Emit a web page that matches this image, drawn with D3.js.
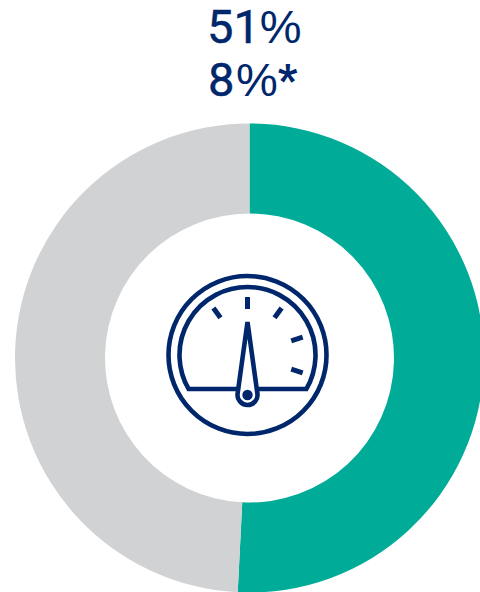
<!DOCTYPE html>
<html><head><meta charset="utf-8">
<script src="https://cdn.jsdelivr.net/npm/d3@7"></script>
<style>html,body{margin:0;padding:0;background:#fff;overflow:hidden}svg{display:block}</style>
</head><body><svg id="c" width="480" height="592"></svg>
<script>
const categories = ["Share", "Remainder"];
const seriesValues = [50.8, 49.2];
const labelNumbers = ["51", "8"];
const labelUnits = ["%", "%"];
const labelNotes = ["", "*"];
const colors = ["#00AB98", "#D1D2D4"];
const navy = "#00276B";
const dialTicks = [-36, 0, 36, 72, 108];

const svg = d3.select("#c");
const cx = 249.5, cy = 358, rO = 234.5, rI = 144.5;

const pie = d3.pie().sort(null);
const arc = d3.arc().innerRadius(rI).outerRadius(rO);
svg.append("g").attr("transform", `translate(${cx},${cy})`)
  .selectAll("path").data(pie(seriesValues)).join("path")
  .attr("d", arc).attr("fill", (d, i) => colors[i]);

const lab = svg.selectAll("text.lab").data(labelNumbers).join("text")
  .attr("class", "lab")
  .attr("x", (d, i) => i ? 208 : 207)
  .attr("y", (d, i) => i ? 96 : 42.5)
  .attr("fill", navy);
lab.append("tspan").attr("font-family", "Roboto, sans-serif").attr("font-weight", 400)
  .attr("font-size", 47).attr("stroke", navy).attr("stroke-width", 0.5).text(d => d);
lab.append("tspan").attr("font-family", "'Liberation Sans', sans-serif")
  .attr("font-size", 47).attr("dx", (d, i) => i ? 1.5 : 0).text((d, i) => labelUnits[i]);
lab.append("tspan").attr("font-family", "Roboto, sans-serif").attr("font-weight", 900)
  .attr("font-size", 42).attr("dy", -2).text((d, i) => labelNotes[i]);

const icon = svg.append("g").attr("transform", "translate(247.5,355)")
  .attr("fill", "none").attr("stroke", navy);
icon.append("circle").attr("r", 79).attr("stroke-width", 4.6);

const dial = d3.path();
dial.arc(0, 0, 68, Math.atan2(34, -59), Math.atan2(34, 59), false);
dial.closePath();
icon.append("path").attr("d", dial.toString()).attr("stroke-width", 4.6);

icon.selectAll("line").data(dialTicks).join("line")
  .attr("x1", d => 46 * Math.sin(d * Math.PI / 180))
  .attr("y1", d => -46 * Math.cos(d * Math.PI / 180))
  .attr("x2", d => 58 * Math.sin(d * Math.PI / 180))
  .attr("y2", d => -58 * Math.cos(d * Math.PI / 180))
  .attr("stroke-width", 5);

const needle = d3.path();
needle.moveTo(0, -33);
needle.lineTo(9.8, 38);
needle.arc(0, 40, 10, -0.2, Math.PI + 0.2, false);
needle.closePath();
icon.append("path").attr("d", needle.toString()).attr("fill", "#fff")
  .attr("stroke-width", 4.6).attr("stroke-linejoin", "bevel");
icon.append("circle").attr("cy", 40).attr("r", 5.2).attr("fill", navy).attr("stroke", "none");
</script></body></html>
